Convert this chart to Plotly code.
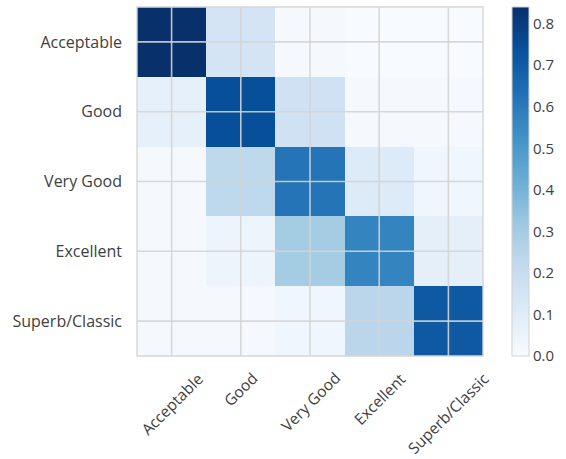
import plotly.graph_objects as go

# Normalized confusion matrix: rows = true class, columns = predicted class
classes = ["Acceptable", "Good", "Very Good", "Excellent", "Superb/Classic"]
row_acceptable = [0.84, 0.15, 0.01, 0.00, 0.00]
row_good = [0.07, 0.74, 0.17, 0.01, 0.01]
row_very_good = [0.01, 0.23, 0.62, 0.11, 0.03]
row_excellent = [0.01, 0.04, 0.30, 0.57, 0.08]
row_superb = [0.01, 0.01, 0.03, 0.24, 0.71]
matrix = [row_acceptable, row_good, row_very_good, row_excellent, row_superb]
cbar_ticks = [0.0, 0.1, 0.2, 0.3, 0.4, 0.5, 0.6, 0.7, 0.8]

blues = ["rgb(247,251,255)", "rgb(222,235,247)", "rgb(198,219,239)",
         "rgb(158,202,225)", "rgb(107,174,214)", "rgb(66,146,198)",
         "rgb(33,113,181)", "rgb(8,81,156)", "rgb(8,48,107)"]
scale = [[i / (len(blues) - 1), c] for i, c in enumerate(blues)]

n = len(classes)
idx = list(range(n))
zmax = max(max(r) for r in matrix)

FONT = "Open Sans"
TXT = "#404040"
GRID = "rgba(212,212,212,0.9)"
FSIZE = 16

fig = go.Figure(go.Heatmap(
    z=matrix, x=idx, y=idx,
    colorscale=scale, zmin=0, zmax=zmax,
    colorbar=dict(
        thickness=17, len=1.0, y=0.5, yanchor="middle",
        x=1.084, xanchor="left", xpad=0, ypad=0,
        outlinecolor="#d2d2d2", outlinewidth=1,
        tickvals=cbar_ticks, ticktext=[f"{v:.1f}" for v in cbar_ticks],
        ticks="",
        tickfont=dict(family=FONT, size=15, color=TXT),
    ),
    hoverinfo="skip",
))

# grid lines through cell centres, drawn over the cells
shapes = []
for i in idx:
    shapes.append(dict(type="line", xref="x", yref="paper", x0=i, x1=i, y0=0, y1=1,
                       line=dict(color=GRID, width=1.6), layer="above"))
    shapes.append(dict(type="line", xref="paper", yref="y", x0=0, x1=1, y0=i, y1=i,
                       line=dict(color=GRID, width=1.6), layer="above"))
shapes.append(dict(type="rect", xref="paper", yref="paper", x0=0, x1=1, y0=0, y1=1,
                   line=dict(color="#d6d6d6", width=1.4), layer="above"))

# rotated column labels, centred under each column
annotations = [
    dict(text=name, x=i, xref="x", y=0, yref="paper", yshift=-9,
         xanchor="center", yanchor="top", textangle=-45, showarrow=False,
         font=dict(family=FONT, size=15.5, color=TXT))
    for i, name in zip(idx, classes)
]

fig.update_layout(
    width=566, height=459,
    margin=dict(l=137, r=83, t=7, b=103),
    paper_bgcolor="white", plot_bgcolor="white",
    shapes=shapes, annotations=annotations,
    xaxis=dict(tickvals=idx, showticklabels=False, range=[-0.5, n - 0.5],
               showgrid=False, zeroline=False, ticks=""),
    yaxis=dict(tickvals=idx, ticktext=classes, autorange="reversed",
               showgrid=False, zeroline=False, ticks="", ticklabelstandoff=14,
               tickfont=dict(family=FONT, size=FSIZE, color=TXT)),
)

fig.write_html("out.html")
